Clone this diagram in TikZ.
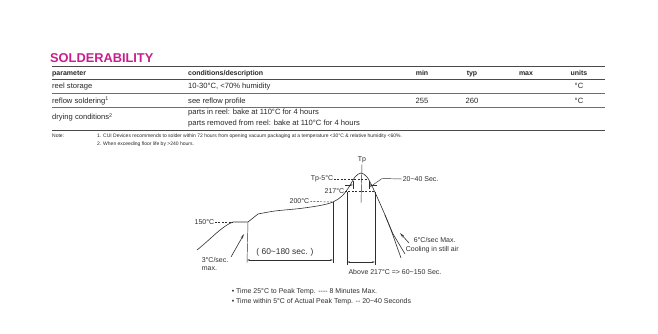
\documentclass[tikz,border=0pt]{standalone}
\usepackage{fontspec}
\setmainfont{Liberation Sans}
\usepackage{tikz}
\usetikzlibrary{arrows.meta}
\definecolor{ttlcol}{HTML}{C81E8C}
\definecolor{ink}{HTML}{262626}
\definecolor{rulecol}{HTML}{4A4A4A}
\definecolor{plotcol}{HTML}{2E2E2E}
\tikzset{
  x=1pt, y=-1pt,
  ttl/.style={text=ttlcol, font=\fontsize{12.8}{14}\selectfont\bfseries, inner sep=0pt},
  hrule/.style={draw=rulecol, line width=0.9pt},
  thinrule/.style={draw=rulecol!80, line width=0.55pt},
  hdr/.style={text=ink, font=\fontsize{7}{8}\selectfont\bfseries, inner sep=0pt},
  cell/.style={text=ink, font=\fontsize{7.6}{9}\selectfont, inner sep=0pt},
  notetxt/.style={text=ink, font=\fontsize{5}{6}\selectfont, inner sep=0pt, anchor=base west},
  curve/.style={draw=plotcol, line width=0.6pt, line join=round},
  guide/.style={draw=plotcol, line width=0.45pt},
  dashline/.style={draw=plotcol, line width=0.45pt, dash pattern=on 2pt off 1.4pt},
  dimarrow/.style={draw=plotcol, line width=0.45pt, {Stealth[length=3pt,width=1.6pt]}-{Stealth[length=3pt,width=1.6pt]}},
  ptarrow/.style={draw=plotcol, line width=0.6pt, -{Stealth[length=5pt,width=2.2pt]}},
  lbl/.style={text=plotcol, font=\fontsize{7}{8}\selectfont, inner sep=0.6pt}
}
\begin{document}
\begin{tikzpicture}
  \useasboundingbox (0,0) rectangle (658,334);

  % title and table
  \node[ttl, anchor=base west] (ttl) at (50,62.5) {SOLDERABILITY};
  \draw[hrule] (52,66) -- (605,66);
  \draw[hrule] (52,79.5) -- (605,79.5);
  \draw[thinrule] (52,93) -- (605,93);
  \draw[thinrule] (52,107) -- (605,107);
  \draw[hrule] (52,130) -- (605,130);

  \node[hdr, anchor=base west] (hpar) at (52,75.5) {parameter};
  \node[hdr, anchor=base west] (hcond) at (188,75.5) {conditions/description};
  \node[hdr, anchor=base] (hmin) at (422,75.5) {min};
  \node[hdr, anchor=base] (htyp) at (472,75.5) {typ};
  \node[hdr, anchor=base] (hmax) at (526,75.5) {max};
  \node[hdr, anchor=base] (hunit) at (579,75.5) {units};

  \node[cell, anchor=base west] (reel) at (52,89) {reel storage};
  \node[cell, anchor=base west] (reelc) at (188,89) {10-30°C, <70\% humidity};
  \node[cell, anchor=base] (reelu) at (579,89) {°C};

  \node[cell, anchor=base west] (reflow) at (52,103) {reflow soldering\textsuperscript{1}};
  \node[cell, anchor=base west] (reflowc) at (188,103) {see reflow profile};
  \node[cell, anchor=base] (reflowmin) at (422,103) {255};
  \node[cell, anchor=base] (reflowtyp) at (472,103) {260};
  \node[cell, anchor=base] (reflowu) at (579,103) {°C};

  \node[cell, anchor=base west] (dry) at (52,120) {drying conditions\textsuperscript{2}};
  \node[cell, anchor=base west] (dryc1) at (188,114.5) {parts in reel: bake at 110°C for 4 hours};
  \node[cell, anchor=base west] (dryc2) at (188,125) {parts removed from reel: bake at 110°C for 4 hours};

  \node[notetxt] (note) at (52,138) {Note:};
  \node[notetxt] (note1) at (97,138) {1. CUI Devices recommends to solder within 72 hours from opening vacuum packaging at a temperature <30°C \& relative humidity <60\%.};
  \node[notetxt] (note2) at (97,145) {2. When exceeding floor life by >240 hours.};

  % reflow profile
  \coordinate (S0) at (197,250);
  \coordinate (S1) at (233,222);
  \coordinate (S2) at (248,222);
  \coordinate (Q200) at (333,202);
  \coordinate (L217) at (347,191.5);
  \coordinate (R217) at (375,191.5);
  \coordinate (Pk) at (361,173);
  \coordinate (Cb) at (385,215);

  \draw[curve] (S0) .. controls (212,238) and (222,226) .. (S1) -- (S2)
    -- plot[smooth, tension=0.55] coordinates {(258,214) (275,211) (300,208.5) (320,205.5)
       (333,202) (342,196) (349,187) (355,177) (361,173) (367,177) (372,186)
       (378,199) (385,215) (391,230) (396,244) (401,258)};
  \draw[curve] (Cb) -- (393,234) -- (405,254);

  % temperature levels
  \node[lbl, anchor=east] (t150) at (215,222) {150°C};
  \draw[dashline] (t150.east) -- (S1);
  \node[lbl, anchor=east] (t200) at (310,201.5) {200°C};
  \draw[dashline] (t200.east) -- (Q200);
  \node[lbl, anchor=east] (t217) at (345,191.5) {217°C};
  \draw[dashline] (t217.east) -- (R217);
  \node[lbl, anchor=east] (tp5) at (334,179) {Tp-5°C};
  \coordinate (P5) at (368,179);
  \draw[dashline] (tp5.east) -- (P5);
  \node[lbl] (tp) at (362,160) {Tp};
  \coordinate (PkLow) at (361,203);
  \draw[guide] (tp.south) -- (PkLow);

  % time window near peak
  \coordinate (W1) at (353,185);
  \coordinate (W2) at (369,185);
  \draw[guide] (353,181) -- (353,189) (369,181) -- (369,189);
  \draw[guide, -{Stealth[length=3pt,width=1.6pt]}] (345,185) -- (W1);
  \draw[guide, -{Stealth[length=3pt,width=1.6pt]}] (377,185) -- (W2);
  \node[lbl, anchor=west] (w2040) at (402,179) {20\textasciitilde40 Sec.};
  \draw[guide] (370,187) -- (382,178.5) -- (w2040.west);

  % time spans
  \coordinate (A1) at (247,260);
  \coordinate (A2) at (333,260);
  \draw[guide] (S2) -- (247,263);
  \draw[guide] (Q200) -- (333,263);
  \draw[dimarrow] (A1) -- (A2);
  \node[lbl, font=\fontsize{8.4}{9}\selectfont] (soak) at (285,252) {( 60\textasciitilde180 sec. )};

  \coordinate (B1) at (347,262);
  \coordinate (B2) at (375,262);
  \draw[guide] (L217) -- (347,265);
  \draw[guide] (R217) -- (375,265);
  \draw[dimarrow] (B1) -- (B2);
  \node[lbl] (above) at (395,271.5) {Above 217°C => 60\textasciitilde150 Sec.};

  % ramp rates
  \node[lbl, anchor=north west, align=left] (ramp) at (201,257) {3°C/sec.\\max.};
  \coordinate (RampHd) at (244,234);
  \draw[ptarrow] (231,257) -- (RampHd);
  \node[lbl, anchor=west] (cool1) at (413,240) {6°C/sec Max.};
  \node[lbl, anchor=west] (cool2) at (405,249.5) {Cooling in still air};
  \coordinate (CoolHd) at (400,233);
  \draw[ptarrow] (409,243) -- (CoolHd);

  % remarks
  \node[lbl, anchor=west] (rem1) at (231,291.5) {• Time 25°C to Peak Temp. {-}{-}{-}{-} 8 Minutes Max.};
  \node[lbl, anchor=west] (rem2) at (231,302) {• Time within 5°C of Actual Peak Temp. {-}{-} 20\textasciitilde40 Seconds};
\end{tikzpicture}
\end{document}
